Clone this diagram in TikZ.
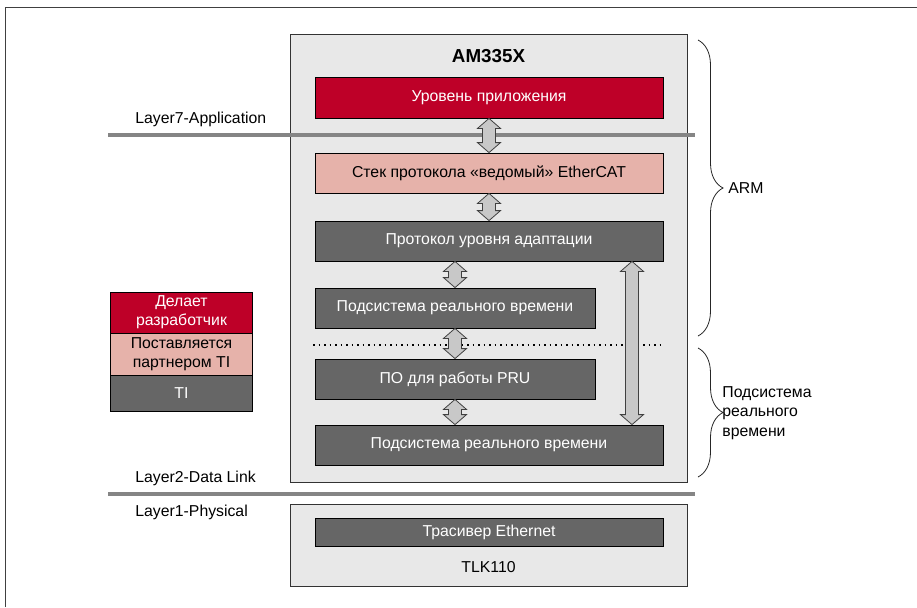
\documentclass[tikz,border=0pt]{standalone}
\usepackage{fontspec}
\setmainfont{Liberation Sans}
\usetikzlibrary{calc,decorations.pathreplacing}
\definecolor{devred}{HTML}{BE0028}
\definecolor{partnerpink}{HTML}{E6B2AA}
\definecolor{tidark}{HTML}{666666}
\definecolor{chipgray}{HTML}{E8E8E8}
\definecolor{arrowgray}{HTML}{C8C8C8}
\definecolor{osigray}{HTML}{858585}

\begin{document}
\begin{tikzpicture}[x=0.5pt,y=-0.5pt,
  font=\fontsize{7.9}{9.6}\selectfont,
  chip/.style ={draw=black!80, fill=chipgray, thin, minimum width=198.5pt, inner sep=0pt},
  layer/.style ={draw=black, thin, minimum width=174pt, minimum height=20pt, inner sep=0pt},
  devbox/.style ={layer, fill=devred, text=white},
  partnerbox/.style ={layer, fill=partnerpink},
  tibox/.style ={layer, fill=tidark, text=white},
  legend/.style ={draw=black, thin, minimum width=71pt, inner sep=0pt, align=center},
  osi/.style ={draw=osigray, line width=2pt},
  tag/.style ={anchor=west, inner sep=0pt, align=left},
  bigarrow/.style ={draw=black!75, fill=arrowgray, thin,
    to path={let \p1=(\tikztostart), \p2=(\tikztotarget) in
      (\x1,\y1) -- (\x1+5.75pt,\y1-5pt) -- (\x1+3.25pt,\y1-5pt) -- (\x1+3.25pt,\y2+5pt)
      -- (\x1+5.75pt,\y2+5pt) -- (\x1,\y2) -- (\x1-5.75pt,\y2+5pt) -- (\x1-3.25pt,\y2+5pt)
      -- (\x1-3.25pt,\y1-5pt) -- (\x1-5.75pt,\y1-5pt) -- cycle}},
  curly/.style ={draw=black!85, thin, decorate, decoration={brace, amplitude=12.5pt}}]
 \useasboundingbox (0,0) rectangle (917,607);
 \draw[draw=black!75, line width=0.75pt] (5.5,607) -- (5.5,7.5) -- (917,7.5);
 \node[chip, minimum height=224pt] (AM) at (488.5,258) {};
 \node[font=\fontsize{9.4}{11}\selectfont\bfseries] (T) at (488.5,56) {AM335X};
 \draw[osi] (108,135) -- (695,135);
 \node[tag] (L7) at (135,119) {Layer7-Application};
 \node[devbox, minimum height=20.5pt] (A) at (489,97.5) {Уровень приложения};
 \node[partnerbox] (B) at (489,173) {Стек протокола «ведомый» EtherCAT};
 \node[tibox] (C) at (489,241) {Протокол уровня адаптации};
 \node[tibox, minimum width=140pt] (D) at (455,308) {Подсистема реального времени};
 \node[tibox, minimum width=140pt] (E) at (455,379) {ПО для работы PRU};
 \node[tibox] (F) at (489,445) {Подсистема реального времени};
 \draw[black, line width=0.75pt, dotted] (313,345) -- (663,345);
 \coordinate (R) at (632,0);
 \draw[bigarrow] (A.south) to (B.north);
 \draw[bigarrow] (B.south) to (C.north);
 \draw[bigarrow] (C.south -| D.south) to (D.north);
 \draw[bigarrow] (D.south) to (E.north);
 \draw[bigarrow] (E.south) to (F.north -| E.south);
 \draw[bigarrow] (C.south -| R) to (F.north -| R);
 \draw[osi] (108,494) -- (695,494);
 \node[tag] (L2) at (135,478) {Layer2-Data Link};
 \node[tag] (L1) at (135,512) {Layer1-Physical};
 \node[chip, minimum height=41pt] (TLK) at (488.5,545) {};
 \node[tibox, minimum height=14pt] (G) at (489,532) {Трасивер Ethernet};
 \node (TN) at (488.5,567) {TLK110};
 \node[legend, fill=devred, text=white, minimum height=20.5pt] (K1) at (181.5,312.5) {Делает\\разработчик};
 \node[legend, fill=partnerpink, minimum height=21pt] (K2) at (181.5,354) {Поставляется\\партнером TI};
 \node[legend, fill=tidark, text=white, minimum height=18pt] (K3) at (181.5,393) {TI};
 \draw[curly] (698,40) -- (698,336);
 \node[tag] (ARM) at (728,188) {ARM};
 \draw[curly] (698,348) -- (698,477);
 \node[tag] (RT) at (722,413) {Подсистема\\реального\\времени};
\end{tikzpicture}
\end{document}
